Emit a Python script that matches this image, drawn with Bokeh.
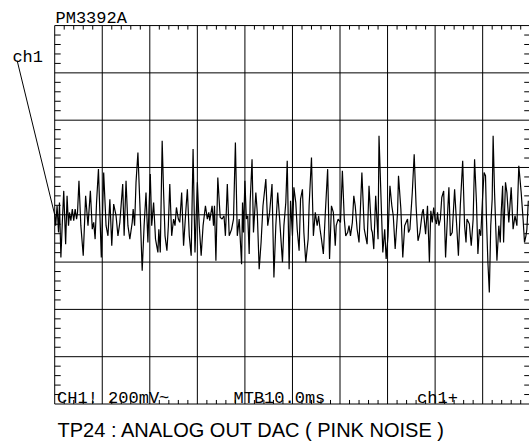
from bokeh.plotting import figure
from bokeh.models import Range1d, Label
from bokeh.embed import file_html
from bokeh.resources import INLINE

# ---- data (time in ms, amplitude in mV) ----
time_ms = [
    0.0, 0.2, 0.5, 0.8, 1.0, 1.3, 1.6, 1.9, 2.3, 2.6, 2.9, 3.1, 3.4, 3.7, 4.0, 4.3, 4.6, 4.8,
    5.1, 5.5, 6.0, 6.5, 7.0, 7.5, 7.9, 8.2, 8.5, 8.8, 9.2, 9.8, 10.3, 10.8, 11.2, 11.6, 12.0,
    12.4, 12.9, 13.3, 13.7, 14.3, 14.6, 15.0, 15.4, 15.8, 16.3, 16.5, 16.8, 17.1, 17.5, 17.9,
    18.4, 18.8, 19.2, 19.6,
    19.8, 20.1, 20.4, 20.8, 21.2, 21.7, 21.9, 22.2, 22.6, 22.9, 23.2, 23.6, 23.9, 24.2, 24.6,
    25.0, 25.3, 25.6, 26.0, 26.3, 26.7, 27.1, 27.6, 27.9, 28.3, 28.7, 29.1, 29.5, 30.0, 30.4,
    30.8, 31.2, 31.7, 32.1, 32.4, 32.6, 33.1, 33.4, 33.6, 33.9, 34.3, 34.8, 35.2, 35.6, 35.9,
    36.3, 36.7, 37.2, 37.6, 38.0, 38.4, 38.8, 39.3,
    39.5, 39.7, 40.0, 40.3, 40.6, 40.9, 41.1, 41.5, 41.8, 42.3, 42.6, 43.0, 43.4, 43.8, 44.4,
    44.8, 45.2, 45.7, 46.1, 46.5, 46.9, 47.3, 47.9, 48.2, 48.6, 48.9, 49.3, 49.6, 50.0, 50.3,
    50.7, 51.0, 51.4, 51.7, 52.1, 52.4, 52.8, 53.3, 53.5, 54.0, 54.4, 54.8, 55.2, 55.5, 55.8,
    56.1, 56.5, 56.9, 57.4, 57.8, 58.2, 58.6, 59.0,
    59.2, 59.6, 60.1, 60.5, 60.9, 61.2, 61.6, 61.9, 62.2, 62.6, 62.9, 63.2, 63.6, 64.0, 64.6,
    65.1, 65.7, 66.1, 66.6, 66.8, 67.1, 67.5, 68.0, 68.2, 68.7, 69.0, 69.4, 69.7, 70.1, 70.5,
    70.9, 71.2, 71.6, 72.1, 72.3, 72.8, 73.2, 73.6, 73.9, 74.2, 74.4, 74.7, 75.2, 75.6, 76.0,
    76.4, 76.8, 77.3, 77.5, 78.0, 78.4, 78.8,
    78.9, 79.1, 79.4, 79.7, 80.0, 80.3, 80.5, 80.8, 81.1, 81.4, 81.8, 82.2, 82.7, 82.9, 83.2,
    83.6, 84.1, 84.5, 84.9, 85.3, 85.8, 86.2, 86.5, 86.7, 87.2, 87.6, 88.0, 88.3, 88.7, 89.0,
    89.3, 89.6, 90.0, 90.3, 90.6, 90.8, 91.1, 91.4, 91.7, 92.0, 92.2, 92.5, 93.0, 93.4, 93.7,
    93.9, 94.2, 94.4, 94.8, 95.1, 95.5, 96.0, 96.4, 96.8, 97.2, 97.6, 98.1, 98.5, 98.8, 99.1,
    99.3, 99.6,
]
volt_mv = [
    3, -46, 38, -75, 52, -180, -32, 101, -124, 80, -46, 10, -25, 24, -25, 24, -18, 10,
    144, -46, -173, 80, -46, 101, -61, -32, -103, 52, 193, -180, 179, -46, -89, 66, -131,
    45, -4, -89, -32, 130, -89, 144, -46, -103, -32, 24, -46, 137, 263, 52,
    -237, -46, 94, -117,
    10, 172, -46, 52, -103, -159, -61, -159, 313, 94, -89, -152, -46, 130, -89,
    -18, -46, 31, -18, -32, 94, -131, 24, 108, -89, -173, 278, -159, 137, -46,
    -173, -46, 38, -18, 10, -25, 38, -46, 38, -194, 158, -11, -18, -4, -89,
    130, -89, -61, -18, 306, -89, -18, -209,
    52, -75, 144, -18, -4, -166, 52, 235, -75, 94, 10, -230, -117, 38, 151,
    -46, 10, 130, -265, -46, 94, -18, -201, -46, 52, 228, -230, 59, -89, 116,
    52, -61, -152, 66, 108, -75, -201, -103, 38, 242, -89, 10, -46, -4, -61,
    -103, -166, 3, 193, -187, 38, 10, -131,
    -46, -18, -32, 186, -18, -89, -75, -46, -89, -32, 80, 38, -61, -117, 179,
    -61, -124, 123, -61, -75, -145, 80, -103, 334, 24, -159, -61, -187, -89, 123,
    38, -4, -145, 10, 165, 24, -180, -46, -32, -18, -75, -61, 94, 256, 38,
    -110, -75, 10, 24, -82, 38, -201,
    -117, 17, -32, 31, -18, -39, 10, -46, -18, 73, 101, -180, 38, 116, -89,
    -75, 108, -32, -173, 38, 228, -46, -117, -18, -39, -131, -18, 235, 52, -166,
    -61, -89, 80, 179, 165, -18, -201, -328, -46, 66, 334, 94, -194, -46, -117,
    10, 123, -117, 137, 94, -32, 116, -61, -4, -46, 207, 94, -18, -117, -89,
    -61, 59,
]

# graticule: 10 divisions of 10 ms, 8 divisions of 200 mV, 5 subdivisions each
div_x = [0, 10, 20, 30, 40, 50, 60, 70, 80, 90, 100]
div_y = [-800, -600, -400, -200, 0, 200, 400, 600, 800]
sub_x = [2 * i for i in range(1, 50) if i % 5]
sub_y = [-800 + 40 * i for i in range(1, 40) if i % 5]

screen_label = "PM3392A"
channel_label = "ch1"
bottom_labels = ["CH1! 200mV~", "MTB10.0ms", "ch1+"]
caption = "TP24 :  ANALOG OUT DAC ( PINK NOISE )"

X0, X1 = div_x[0], div_x[-1]
Y0, Y1 = div_y[0], div_y[-1]

p = figure(width=529, height=443,
           x_range=Range1d(-11.4, 99.85), y_range=Range1d(-967, 906),
           output_backend="svg", toolbar_location=None,
           x_axis_location=None, y_axis_location=None,
           min_border=0)
p.outline_line_color = None
p.grid.visible = False
p.background_fill_color = "white"
p.border_fill_color = "white"

# graticule lines (including the outer border)
p.segment(x0=div_x, y0=[Y0] * len(div_x), x1=div_x, y1=[Y1] * len(div_x),
          line_color="black", line_width=1)
p.segment(x0=[X0] * len(div_y), y0=div_y, x1=[X1] * len(div_y), y1=div_y,
          line_color="black", line_width=1)

# subdivision ticks on the border
tx = 1.05    # tick length along time axis (ms)
ty = 17      # tick length along amplitude axis (mV)
p.segment(x0=sub_x, y0=[Y1] * len(sub_x), x1=sub_x, y1=[Y1 - ty] * len(sub_x),
          line_color="black", line_width=1)
p.segment(x0=sub_x, y0=[Y0] * len(sub_x), x1=sub_x, y1=[Y0 + ty] * len(sub_x),
          line_color="black", line_width=1)
p.segment(x0=[X0] * len(sub_y), y0=sub_y, x1=[X0 + tx * 1.2] * len(sub_y), y1=sub_y,
          line_color="black", line_width=1)
p.segment(x0=[X1] * len(sub_y), y0=sub_y, x1=[X1 - tx * 1.2] * len(sub_y), y1=sub_y,
          line_color="black", line_width=1)

# the trace
p.line(time_ms, volt_mv, line_color="black", line_width=1.2)

# channel pointer
p.line([-7.9, 0], [652, 0], line_color="black", line_width=1)

mono = "Liberation Mono"
p.add_layout(Label(x=0.17, y=829, text=screen_label, text_font=mono,
                   text_font_size="17px", text_color="black", text_baseline="alphabetic"))
p.add_layout(Label(x=-8.9, y=666, text=channel_label, text_font=mono,
                   text_font_size="17px", text_color="black", text_baseline="alphabetic"))
for xpos, txt in zip([0.5, 37.6, 76.2], bottom_labels):
    p.add_layout(Label(x=xpos, y=-778, text=txt, text_font=mono,
                       text_font_size="17px", text_color="black", text_baseline="alphabetic"))
p.add_layout(Label(x=0.6, y=-910, text=caption,
                   text_font="Liberation Sans",
                   text_font_size="20px", text_color="black", text_baseline="alphabetic"))

open("out.html", "w").write(file_html(p, INLINE))
